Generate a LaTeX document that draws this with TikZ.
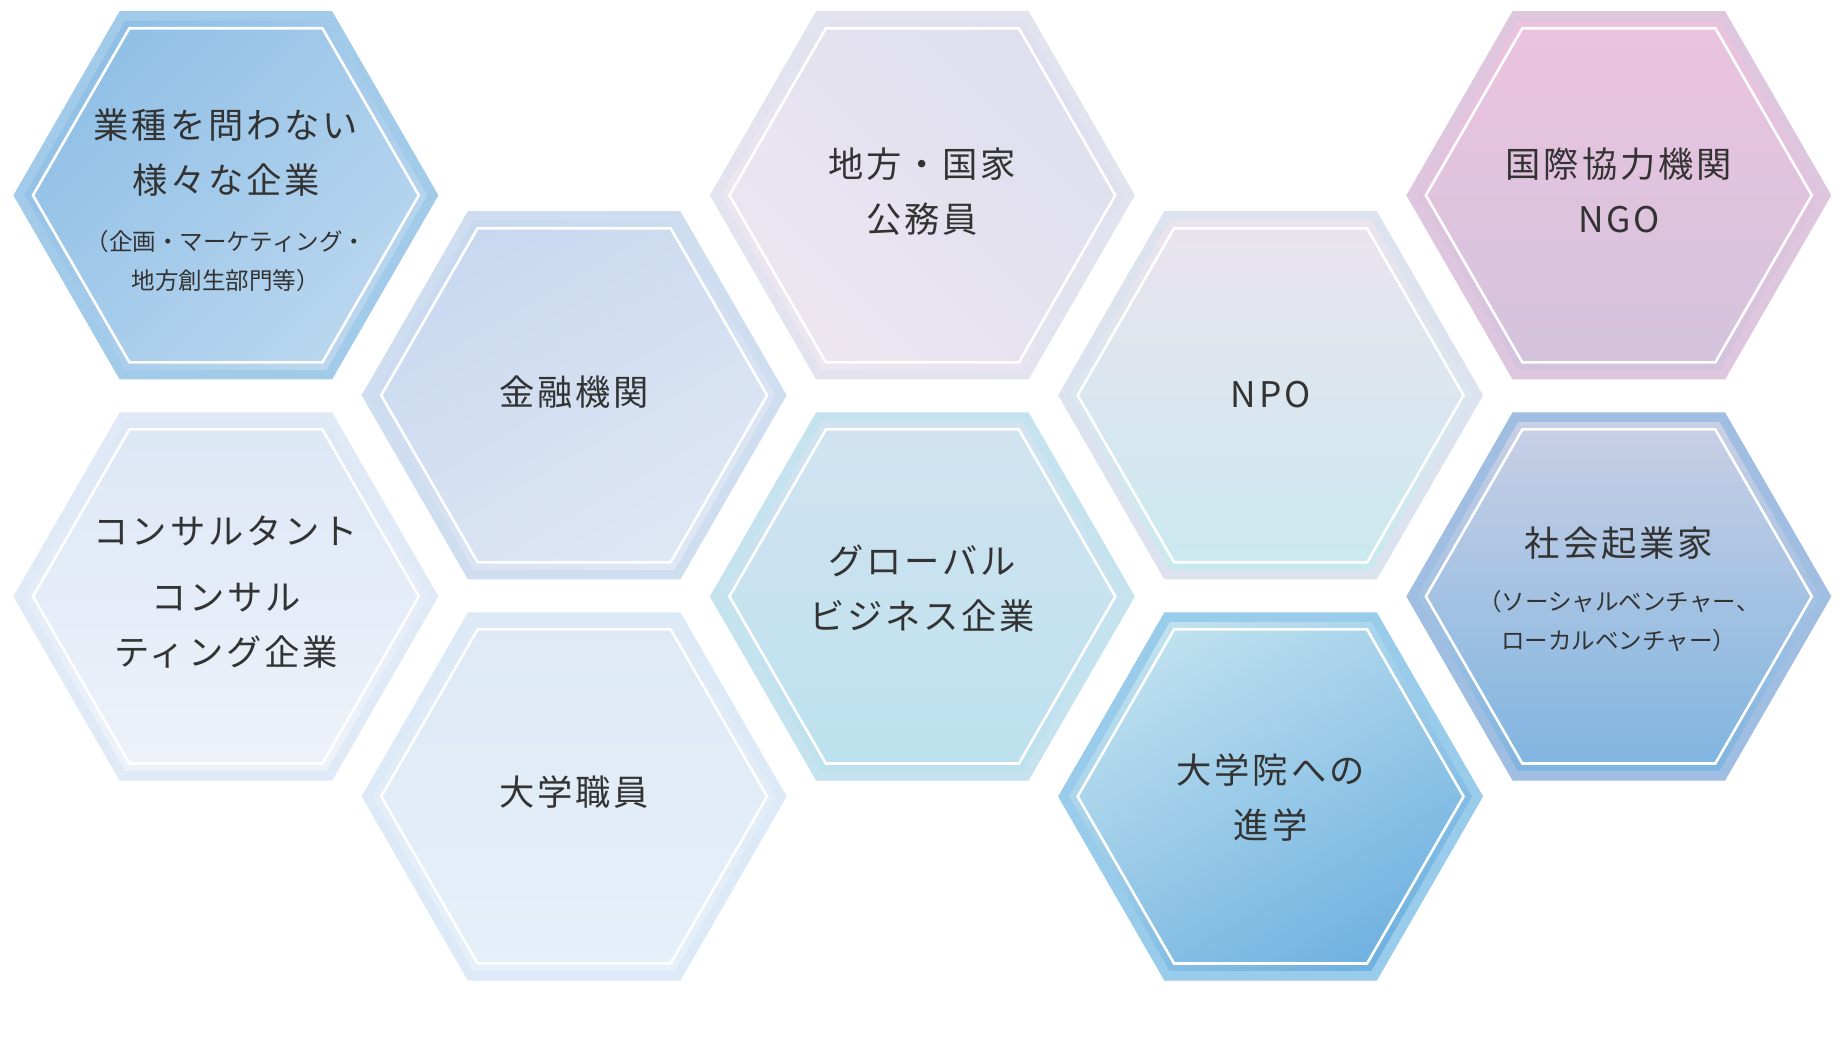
\documentclass[tikz,border=0pt]{standalone}
\usepackage{fontspec}
\setmainfont{Noto Sans CJK JP}[LetterSpace=8]
\newfontfamily\subf{Noto Sans CJK JP}
\definecolor{txt}{HTML}{333333}
\begin{document}
\begin{tikzpicture}[x=1pt,y=-1pt,
  big/.style={text=txt,font=\fontsize{30}{47}\selectfont,align=center},
  small/.style={text=txt,font=\subf\fontsize{20}{33}\selectfont,align=center}]
\useasboundingbox (0,0) rectangle (1564,884);
\newcommand\hexa[7]{%
 \definecolor{ca}{HTML}{#4}\definecolor{cb}{HTML}{#5}\definecolor{cc}{HTML}{#6}%
 \shade[shading=axis,top color=ca,bottom color=cb,shading angle=#7]
   (#2-180,#3)--(#2-90,#3-156)--(#2+90,#3-156)--(#2+180,#3)--(#2+90,#3+156)--(#2-90,#3+156)--cycle;
 \draw[cc,line width=8pt,line join=miter]
   (#2-176,#3)--(#2-88,#3-152.5)--(#2+88,#3-152.5)--(#2+176,#3)--(#2+88,#3+152.5)--(#2-88,#3+152.5)--cycle;
 \draw[white,line width=2.2pt]
   (#2-164,#3)--(#2-82,#3-142)--(#2+82,#3-142)--(#2+164,#3)--(#2+82,#3+142)--(#2-82,#3+142)--cycle;
 \coordinate (#1) at (#2,#3);}
\hexa{h1}{192}{166}{8FBFE6}{BBD7EF}{A2CBEA}{45}
\hexa{h2}{192}{507}{DCE7F5}{EEF2FA}{E0EAF6}{0}
\hexa{h3}{488}{336}{C8D8EF}{DFE7F4}{CFDDF0}{30}
\hexa{h4}{488}{677}{DEE9F6}{E6F0F9}{DCE9F6}{0}
\hexa{h5}{784}{166}{DEDFEF}{EDE6F0}{E3E3EF}{-45}
\hexa{h6}{784}{507}{D2E3F1}{BCE1EE}{C5E2EF}{0}
\hexa{h7}{1080}{336}{ECE3EE}{C9E9EF}{DCE3EE}{0}
\hexa{h8}{1080}{677}{BFE1EF}{70B1E0}{98CCEA}{30}
\hexa{h9}{1376}{166}{ECC3DE}{D3C3DD}{DEC6DF}{0}
\hexa{h10}{1376}{507}{CBD0E5}{7DB4E0}{A0BDE2}{0}
\node[big] (t1) at (192,130) {業種を問わない\\様々な企業};
\node[small] (s1) at (192,222) {（企画・マーケティング・\\地方創生部門等）};
\node[big] (t2a) at (192,451) {コンサルタント};
\node[big] (t2b) at (192,532) {コンサル\\ティング企業};
\node[big] (t3) at (488,333) {金融機関};
\node[big] (t4) at (488,673) {大学職員};
\node[big] (t5) at (784,163) {地方・国家\\公務員};
\node[big] (t6) at (784,500) {グローバル\\ビジネス企業};
\node[big] (t7) at (1080,335) {NPO};
\node[big] (t8) at (1080,678) {大学院への\\進学};
\node[big] (t9) at (1376,162) {国際協力機関\\NGO};
\node[big] (t10) at (1376,462) {社会起業家};
\node[small] (s10) at (1376,528) {（ソーシャルベンチャー、\\ローカルベンチャー）};
\end{tikzpicture}
\end{document}
